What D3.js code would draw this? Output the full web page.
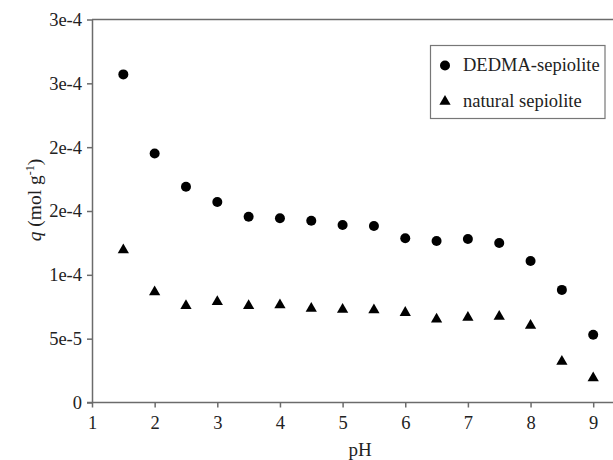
<!DOCTYPE html>
<html>
<head>
<meta charset="utf-8">
<script src="https://cdn.jsdelivr.net/npm/d3@7"></script>
<style>
  body { margin: 0; background: #fff; }
</style>
</head>
<body>
<svg id="chart" width="613" height="460"></svg>
<script>
// pH values
var phValues = [1.5, 2, 2.5, 3, 3.5, 4, 4.5, 5, 5.5, 6, 6.5, 7, 7.5, 8, 8.5, 9];

// adsorption q (mol/g)
var dedmaSepiolite = [2.57e-4, 1.95e-4, 1.69e-4, 1.57e-4, 1.455e-4, 1.443e-4, 1.424e-4, 1.39e-4,
	1.383e-4, 1.286e-4, 1.265e-4, 1.281e-4, 1.25e-4, 1.109e-4, 8.82e-5, 5.3e-5];
var naturalSepiolite = [1.195e-4, 8.66e-5, 7.57e-5, 7.9e-5, 7.57e-5, 7.64e-5, 7.36e-5, 7.28e-5,
	7.25e-5, 7.04e-5, 6.53e-5, 6.65e-5, 6.73e-5, 6.03e-5, 3.21e-5, 1.91e-5];

var xTicks = [1, 2, 3, 4, 5, 6, 7, 8, 9];
var yTicks = [0, 5e-5, 1e-4, 1.5e-4, 2e-4, 2.5e-4, 3e-4];
var yTickLabels = ['0', '5e-5', '1e-4', '2e-4', '2e-4', '3e-4', '3e-4'];

var legendNames = ['DEDMA-sepiolite', 'natural sepiolite'];

var serif = '"Liberation Serif"';
var axisColor = '#6b6b6b';

var svg = d3.select('#chart');

var margin = {top: 19.5, left: 92, bottom: 402.5};

// the plot runs past the right edge of the picture
var x = d3.scaleLinear().domain([1, 10]).range([margin.left, margin.left + 9 * 62.65]);
var y = d3.scaleLinear().domain([0, 3e-4]).range([margin.bottom, margin.top]);

// top frame line
svg.append('line')
	.attr('x1', margin.left).attr('x2', 613)
	.attr('y1', margin.top).attr('y2', margin.top)
	.attr('stroke', axisColor).attr('stroke-width', 1.5);

var xAxis = svg.append('g')
	.attr('transform', 'translate(0,' + margin.bottom + ')')
	.call(d3.axisBottom(x).tickValues(xTicks).tickSizeInner(5).tickSizeOuter(0).tickPadding(8));
xAxis.select('.domain').attr('d', 'M' + (margin.left - 5) + ',0H613');

var yAxis = svg.append('g')
	.attr('transform', 'translate(' + margin.left + ',0)')
	.call(d3.axisLeft(y).tickValues(yTicks).tickSizeInner(5).tickSizeOuter(0).tickPadding(5)
		.tickFormat(function(d, i){ return yTickLabels[i]; }));

[xAxis, yAxis].forEach(function(g){
	g.selectAll('path, line').attr('stroke', axisColor).attr('stroke-width', 1.5);
	g.selectAll('text')
		.style('font-family', serif)
		.style('font-size', '18.5px')
		.attr('fill', '#222');
});

// axis titles
svg.append('text')
	.attr('x', 360).attr('y', 455.5)
	.attr('text-anchor', 'middle')
	.style('font-family', serif).style('font-size', '19px')
	.attr('fill', '#222')
	.text('pH');

var yTitle = svg.append('text')
	.attr('transform', 'translate(41,200) rotate(-90)')
	.attr('text-anchor', 'middle')
	.style('font-family', serif).style('font-size', '19.5px')
	.attr('fill', '#222');
yTitle.append('tspan').style('font-style', 'italic').text('q');
yTitle.append('tspan').text(' (mol g');
yTitle.append('tspan').attr('dy', -7).style('font-size', '12px').text('-1');
yTitle.append('tspan').attr('dy', 7).text(')');

// markers
var triangle = d3.symbol().type(d3.symbolTriangle).size(55);

svg.append('g').selectAll('circle')
	.data(phValues)
	.enter().append('circle')
		.attr('cx', function(d){ return x(d); })
		.attr('cy', function(d, i){ return y(dedmaSepiolite[i]); })
		.attr('r', 5)
		.attr('fill', '#000');

svg.append('g').selectAll('path')
	.data(phValues)
	.enter().append('path')
		.attr('d', triangle)
		.attr('transform', function(d, i){ return 'translate(' + x(d) + ',' + y(naturalSepiolite[i]) + ')'; })
		.attr('fill', '#000');

// legend
var legend = svg.append('g').attr('transform', 'translate(430.5,45.5)');
legend.append('rect')
	.attr('width', 174.5).attr('height', 73)
	.attr('fill', '#fff').attr('stroke', '#777').attr('stroke-width', 1.2);

legendNames.forEach(function(name, i){
	var cy = 20 + i * 36;
	if(i === 0){
		legend.append('circle').attr('cx', 14.5).attr('cy', cy).attr('r', 5).attr('fill', '#000');
	}else{
		legend.append('path').attr('d', triangle).attr('transform', 'translate(14.5,' + cy + ')').attr('fill', '#000');
	}
	legend.append('text')
		.attr('x', 32.5).attr('y', cy + 5)
		.style('font-family', serif).style('font-size', '18.5px')
		.attr('fill', '#222')
		.text(name);
});
</script>
</body>
</html>
